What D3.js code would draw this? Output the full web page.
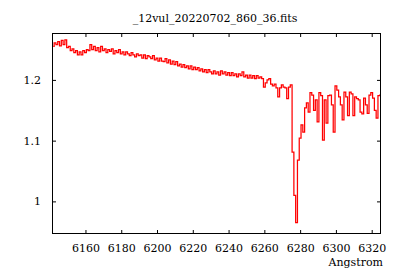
<!DOCTYPE html>
<html>
<head>
<meta charset="utf-8">
<script src="https://cdn.jsdelivr.net/npm/d3@7"></script>
<style>
  body { margin: 0; background: #fff; }
</style>
</head>
<body>
<svg id="chart" width="400" height="280"></svg>
<script>
// spectrum: wavelength grid start + step (like CRVAL1 / CDELT1), flux
const lambdaStart = 6142;
const lambdaStep = 1;
const flux = [
  1.255,1.261,1.258,1.263,1.256,1.265,1.258,1.266,1.253,1.255,
  1.248,1.251,1.245,1.248,1.241,1.246,1.241,1.248,1.245,1.250,
  1.248,1.258,1.250,1.255,1.248,1.253,1.246,1.255,1.248,1.251,
  1.245,1.250,1.247,1.251,1.243,1.248,1.245,1.250,1.243,1.246,
  1.241,1.246,1.243,1.240,1.245,1.241,1.238,1.243,1.240,1.241,
  1.236,1.241,1.235,1.240,1.238,1.235,1.240,1.233,1.236,1.231,
  1.236,1.231,1.230,1.235,1.228,1.233,1.226,1.231,1.225,1.230,
  1.223,1.226,1.221,1.225,1.220,1.223,1.218,1.223,1.217,1.221,
  1.217,1.220,1.215,1.218,1.213,1.217,1.212,1.217,1.213,1.210,
  1.215,1.210,1.213,1.208,1.215,1.210,1.213,1.208,1.212,1.207,
  1.212,1.207,1.210,1.205,1.210,1.207,1.213,1.205,1.208,1.203,
  1.208,1.203,1.207,1.202,1.207,1.203,1.205,1.202,1.188,1.195,
  1.200,1.202,1.193,1.190,1.193,1.187,1.172,1.187,1.192,1.188,
  1.187,1.169,1.188,1.192,1.081,1.010,0.965,1.068,1.104,1.126,
  1.114,1.154,1.162,1.147,1.179,1.175,1.150,1.167,1.131,1.179,
  1.174,1.101,1.167,1.129,1.174,1.175,1.159,1.114,1.190,1.183,
  1.172,1.159,1.134,1.180,1.172,1.141,1.180,1.177,1.141,1.172,
  1.169,1.167,1.147,1.144,1.170,1.159,1.145,1.175,1.179,1.170,
  1.150,1.137,1.174,1.175
];
const xTicks = [6160, 6180, 6200, 6220, 6240, 6260, 6280, 6300, 6320];
const yTicks = [1, 1.1, 1.2];
const title = "_12vul_20220702_860_36.fits";
const xLabel = "Angstrom";

const font = "DejaVu Serif";
const fontSize = 11;

const data = flux.map((f, i) => ({ lambda: lambdaStart + i * lambdaStep, flux: f }));

const x0 = 52, x1 = 381, y0 = 33, y1 = 234;

const svg = d3.select("#chart");

const xScale = d3.scaleLinear().domain([6141.3, 6325.2]).range([x0, x1]);
const yScale = d3.scaleLinear().domain([0.9463, 1.2772]).range([y1, y0]);

// clip so the trace stays inside the frame
svg.append("clipPath").attr("id", "plotclip")
  .append("rect")
  .attr("x", x0).attr("y", y0)
  .attr("width", x1 - x0).attr("height", y1 - y0);

const line = d3.line()
  .x(d => xScale(d.lambda))
  .y(d => yScale(d.flux))
  .curve(d3.curveStep);

svg.append("path")
  .datum(data)
  .attr("clip-path", "url(#plotclip)")
  .attr("fill", "none")
  .attr("stroke", "#ff0000")
  .attr("stroke-width", 1.25)
  .attr("d", line);

// axes, ticks pointing inward on all four sides (gnuplot style)
const axBottom = svg.append("g").attr("transform", `translate(0,${y1})`)
  .call(d3.axisBottom(xScale).tickValues(xTicks).tickSize(-4).tickPadding(10).tickFormat(d3.format("d")));
const axTop = svg.append("g").attr("transform", `translate(0,${y0})`)
  .call(d3.axisTop(xScale).tickValues(xTicks).tickSize(-4).tickFormat(""));
const axLeft = svg.append("g").attr("transform", `translate(${x0},0)`)
  .call(d3.axisLeft(yScale).tickValues(yTicks).tickSize(-4).tickPadding(11).tickFormat(d => String(d)));
const axRight = svg.append("g").attr("transform", `translate(${x1},0)`)
  .call(d3.axisRight(yScale).tickValues(yTicks).tickSize(-4).tickFormat(""));

[axBottom, axTop, axLeft, axRight].forEach(g => {
  g.attr("font-family", font).attr("font-size", fontSize);
  g.select(".domain").remove();
  g.selectAll("line").attr("stroke", "#000");
  g.selectAll("text").attr("fill", "#000");
});

// frame
svg.append("rect")
  .attr("x", x0 + 0.5).attr("y", y0 + 0.5)
  .attr("width", x1 - x0 - 1).attr("height", y1 - y0 - 1)
  .attr("fill", "none").attr("stroke", "#000").attr("stroke-width", 1);

svg.append("text")
  .attr("x", 215).attr("y", 22)
  .attr("text-anchor", "middle")
  .attr("font-family", font).attr("font-size", 11)
  .text(title);

svg.append("text")
  .attr("x", 383).attr("y", 266)
  .attr("text-anchor", "end")
  .attr("font-family", font).attr("font-size", fontSize)
  .text(xLabel);
</script>
</body>
</html>
